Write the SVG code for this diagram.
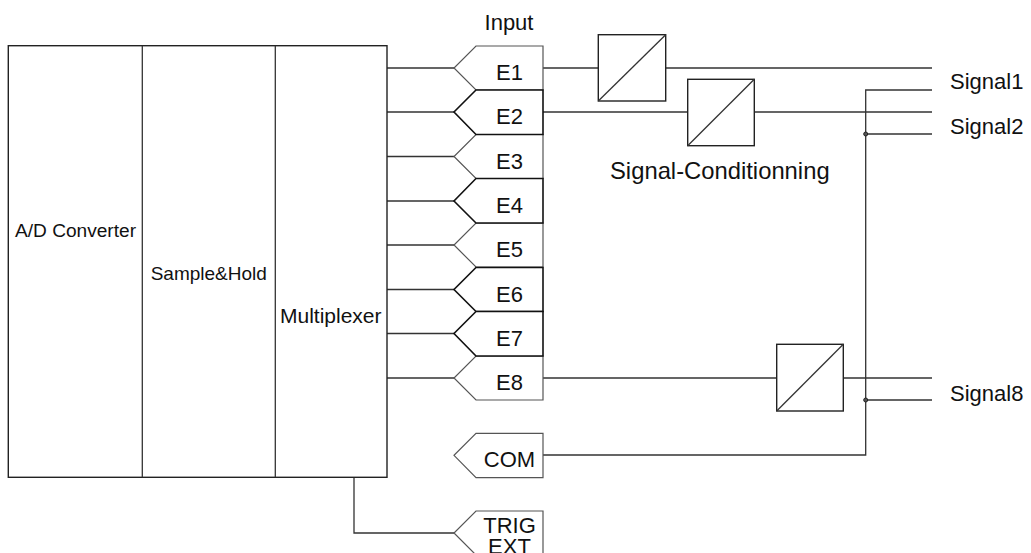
<svg xmlns="http://www.w3.org/2000/svg" width="1031" height="553" viewBox="0 0 1031 553">
<style>
text{font-family:"Liberation Sans",Arial,sans-serif;fill:#111}
.lbl{font-size:22px}
.mid{text-anchor:middle}
.ln{fill:none;stroke:#333;stroke-width:1.3}
.g{fill:#fff;stroke:#555;stroke-width:1.2}
.k{fill:#fff;stroke:#111;stroke-width:1.6}
.box{fill:#fff;stroke:#222;stroke-width:1.4}
.dot{fill:#555;stroke:#222;stroke-width:1}
</style>
<rect width="1031" height="553" fill="#fff"/>
<g id="connectors">
<path class="ln" d="M387,68H454M387,112H454M387,156.5H454M387,201H454M387,245H454M387,289.5H454M387,333.5H454M387,378H454"/>
<path class="ln" d="M543,455H865.7V90H932"/>
<path class="ln" d="M354,477.3V533H454"/>
<path class="ln" d="M543,68H598.3M665.7,68H932"/>
<path class="ln" d="M543,112H687.7M754.3,112H932"/>
<path class="ln" d="M543,378H776.7M843.3,378H932"/>
<path class="ln" d="M865.7,134H932M865.7,400H932"/>
<circle class="dot" cx="865.7" cy="134" r="2"/>
<circle class="dot" cx="865.7" cy="400" r="2"/>
</g>
<g id="daq">
<rect class="box" x="8.3" y="45.7" width="378.7" height="431.6"/>
<line class="ln" x1="142.3" y1="45.7" x2="142.3" y2="477.3"/>
<line class="ln" x1="275.3" y1="45.7" x2="275.3" y2="477.3"/>
</g>
<g id="adc"><text x="15" y="236.7" font-size="17.5" textLength="121" lengthAdjust="spacingAndGlyphs">A/D Converter</text></g>
<g id="sh"><text x="150.7" y="280" font-size="19">Sample&amp;Hold</text></g>
<g id="mux"><text x="280" y="323.3" font-size="21">Multiplexer</text></g>
<g id="input-label"><text class="lbl mid" x="509" y="30">Input</text></g>
<g id="E1"><path class="g" d="M543,46H476L454,68L476,90H543Z"/><text class="lbl mid" x="509.5" y="80">E1</text></g>
<g id="E3"><path class="g" d="M543,134.5H476L454,156.5L476,178.5H543Z"/><text class="lbl mid" x="509.5" y="168.5">E3</text></g>
<g id="E5"><path class="g" d="M543,223H476L454,245L476,267H543Z"/><text class="lbl mid" x="509.5" y="257">E5</text></g>
<g id="E8"><path class="g" d="M543,356H476L454,378L476,400H543Z"/><text class="lbl mid" x="509.5" y="390">E8</text></g>
<g id="E2"><path class="k" d="M543,90H476L454,112L476,134.5H543Z"/><text class="lbl mid" x="509.5" y="124">E2</text></g>
<g id="E4"><path class="k" d="M543,178.5H476L454,201L476,223H543Z"/><text class="lbl mid" x="509.5" y="213">E4</text></g>
<g id="E6"><path class="k" d="M543,267.5H476L454,289.5L476,311.5H543Z"/><text class="lbl mid" x="509.5" y="301.5">E6</text></g>
<g id="E7"><path class="k" d="M543,311.5H476L454,333.5L476,356H543Z"/><text class="lbl mid" x="509.5" y="345.5">E7</text></g>
<g id="COM"><path class="g" d="M543,433.3H476L454,455.3L476,477.7H543Z"/><text class="lbl mid" x="509.5" y="467.3">COM</text></g>
<g id="TRIG"><path class="g" d="M543,511H476L454,533L476,555H543Z"/><text class="lbl mid" x="509.5" y="533">TRIG</text><text class="lbl mid" x="509.5" y="554">EXT</text></g>
<g id="cond1"><rect class="box" x="598.3" y="34.7" width="67.4" height="66.3"/><line class="ln" x1="598.3" y1="101" x2="665.7" y2="34.7"/></g>
<g id="cond2"><rect class="box" x="687.7" y="79.3" width="66.6" height="66.4"/><line class="ln" x1="687.7" y1="145.7" x2="754.3" y2="79.3"/></g>
<g id="cond8"><rect class="box" x="776.7" y="344.3" width="66.6" height="66.7"/><line class="ln" x1="776.7" y1="411" x2="843.3" y2="344.3"/></g>
<g id="cond-label"><text x="610" y="178.5" font-size="23.8">Signal-Conditionning</text></g>
<g id="sig1"><text class="lbl" x="950" y="89">Signal1</text></g>
<g id="sig2"><text class="lbl" x="950" y="134">Signal2</text></g>
<g id="sig8"><text class="lbl" x="950" y="401">Signal8</text></g>
</svg>
